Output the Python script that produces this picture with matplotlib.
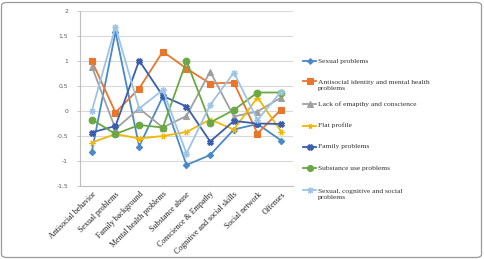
import numpy as np
import matplotlib.pyplot as plt
from matplotlib.lines import Line2D
from matplotlib.patches import FancyBboxPatch

categories = ["Antisocial behavior", "Sexual problems", "Family background",
              "Mental health problems", "Substance abuse", "Conscience & Empathy",
              "Cognitive and social skills", "Social network", "Offenses"]

series_names = ["Sexual problems",
                "Antisocial identity and mental health\nproblems",
                "Lack of emapthy and conscience",
                "Flat profile",
                "Family problems",
                "Substance use problems",
                "Sexual, cognitive and social\nproblems"]

sexual = [-0.81, 1.58, -0.71, 0.29, -1.08, -0.88, -0.37, -0.26, -0.59]
antisocial = [1.00, -0.03, 0.45, 1.19, 0.85, 0.55, 0.57, -0.45, 0.03]
empathy = [0.89, -0.36, 0.05, -0.33, -0.10, 0.79, -0.11, -0.01, 0.27]
flat = [-0.63, -0.46, -0.55, -0.50, -0.42, -0.17, -0.37, 0.27, -0.41]
family = [-0.43, -0.30, 1.01, 0.30, 0.09, -0.61, -0.20, -0.25, -0.26]
substance = [-0.17, -0.46, -0.28, -0.33, 1.00, -0.23, 0.02, 0.37, 0.37]
sexual_cog = [0.00, 1.68, 0.05, 0.42, -0.85, 0.12, 0.77, -0.18, 0.39]

yticks = [-1.5, -1, -0.5, 0, 0.5, 1, 1.5, 2]
ytick_labels = ["-1,5", "-1", "-0,5", "0", "0,5", "1", "1,5", "2"]

all_series = [sexual, antisocial, empathy, flat, family, substance, sexual_cog]
colors = ["#4A89C8", "#E8762D", "#A0A0A0", "#F2B705", "#3A5DAE", "#6AA843", "#9DC3E6"]
markers = ["D", "s", "^", (6, 2, 90), "X", "o", (8, 2, 0)]
msizes = [3.2, 4.2, 4.2, 4.5, 4.2, 4.8, 5.0]

fig = plt.figure(figsize=(4.84, 2.59), dpi=100)
ax = fig.add_axes([80 / 484, 1 - 186 / 259, 213 / 484, 175 / 259])

x = np.arange(len(categories))
for vals, c, m, ms in zip(all_series, colors, markers, msizes):
    ax.plot(x, vals, color=c, lw=1.3, marker=m, ms=ms, mfc=c, mec=c, mew=0.8)

ax.set_xlim(-0.5, len(categories) - 0.5)
ax.set_ylim(-1.5, 2)
ax.set_yticks(yticks)
ax.set_yticklabels(ytick_labels, fontsize=4.3, color="#595959", family="DejaVu Sans")
ax.set_xticks(x)
ax.set_xticklabels(categories, rotation=45, ha="right", rotation_mode="anchor",
                   fontsize=5.8, family="Liberation Serif", color="#202020")
ax.tick_params(axis="x", length=0, pad=3)
ax.tick_params(axis="y", length=2.5, width=0.6, color="#BFBFBF", pad=6)
ax.grid(axis="y", color="#D9D9D9", lw=0.8)
ax.set_axisbelow(True)
for s in ["top", "right"]:
    ax.spines[s].set_visible(False)
ax.spines["left"].set_color("#BFBFBF")
ax.spines["bottom"].set_color("#BFBFBF")
ax.spines["left"].set_linewidth(0.8)
ax.spines["bottom"].set_linewidth(0.8)

# legend drawn by hand to match the uneven spacing
legend_y = [61, 85.7, 103.7, 125.5, 146.7, 168.3, 194.6]
x0, x1 = 303 / 484, 316 / 484
for name, c, m, ms, ly in zip(series_names, colors, markers, msizes, legend_y):
    yy = 1 - ly / 259
    line_y = 1 - (ly - 4.8) / 259 if "\n" in name else yy
    fig.add_artist(Line2D([x0, x1], [line_y, line_y], color=c, lw=1.3,
                          transform=fig.transFigure))
    fig.add_artist(Line2D([(x0 + x1) / 2], [line_y], color=c, lw=0, marker=m,
                          ms=ms * 0.9, mfc=c, mec=c, mew=0.8, transform=fig.transFigure))
    fig.text(318 / 484, yy, name, fontsize=5.4, family="Liberation Serif",
             color="#303030", va="center", ha="left", linespacing=1.35)

border = FancyBboxPatch((1.5 / 484, 1.5 / 259), 480 / 484, 255 / 259,
                        boxstyle="round,pad=0,rounding_size=0.012",
                        transform=fig.transFigure, fill=False, ec="#9A9A9A", lw=0.9)
fig.add_artist(border)

fig.savefig("out.png", dpi=100)
